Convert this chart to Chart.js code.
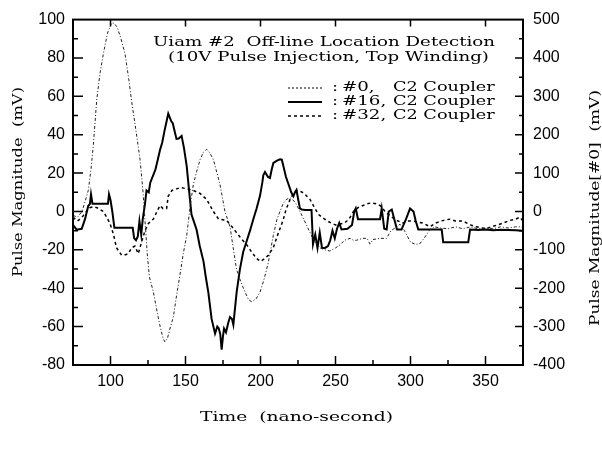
<!DOCTYPE html>
<html>
<head>
<meta charset="utf-8">
<script src="https://cdn.jsdelivr.net/npm/chart.js"></script>
<style>
  body { margin: 0; background: #fff; }
  canvas { display: block; }
</style>
</head>
<body>
<canvas id="pulseChart" width="602" height="464"></canvas>
<script>
// tick labels
var xTicks = [100, 150, 200, 250, 300, 350];
var yTicks = [-80, -60, -40, -20, 0, 20, 40, 60, 80, 100];
var y1Ticks = [-400, -300, -200, -100, 0, 100, 200, 300, 400, 500];

// #0, C2 Coupler (right axis, mV)
var t0 = [75, 78, 81, 83, 85.2, 87, 88.6, 90.8, 93, 95.2, 98, 100.8, 102.5, 104.5, 107, 109.7, 112, 114, 117, 119.7,
  121.5, 123, 124.5, 125.9, 128.6, 131, 133, 135, 136.3, 138, 140, 141.9, 144, 146.3, 148.5, 150.8, 153, 155.2, 157.5, 159.7,
  162, 164.1, 166.3, 168.6, 171, 173, 176.3, 179.7, 182, 184, 187, 189.7, 192, 194.1, 197, 199.7, 202.5, 205.2, 208.5, 211,
  213, 215, 217.4, 220, 223, 226.3, 230, 235, 239.7, 243, 246.3, 250, 253, 256, 259.7, 262, 264, 268, 271, 273,
  275, 280, 284, 287, 290.8, 293, 296, 300, 303, 306, 309, 313, 316, 320, 325, 330, 335, 340, 345, 350,
  355, 360, 365, 370, 375];
var v0 = [-10, -15, 0, 25, 55, 110, 175, 290, 360, 410, 465, 492, 490, 480, 450, 410, 350, 290, 210, 135,
  60, -25, -110, -170, -210, -260, -298, -330, -340, -330, -300, -275, -220, -165, -110, -63, 10, 70, 105, 135,
  155, 162, 152, 135, 100, 70, 0, -40, -100, -150, -185, -210, -230, -235, -228, -210, -175, -133, -63, -20,
  0, 20, 32, 35, 25, 0, -30, -71, -95, -100, -103, -95, -87, -75, -70, -75, -75, -70, -70, -85,
  -73, -70, -70, -50, -40, -33, -50, -80, -85, -85, -70, -47, -40, -43, -45, -40, -45, -40, -45, -43,
  -45, -40, -43, -40, -40];

// #16, C2 Coupler (left axis, mV)
var t16 = [75, 77.4, 80.8, 83, 85.2, 86.3, 87, 88, 92, 96, 98.3, 99, 100, 101.2, 102.6, 108, 114.8, 115.8, 117, 118.2,
  119.3, 120.5, 121.5, 123, 124, 125.5, 126.5, 128.5, 130, 131.5, 133, 134.5, 136, 137.4, 138.5, 139.5, 140.5, 141.5, 143, 144,
  145.5, 147.4, 149, 150.8, 152.5, 154, 155.5, 157.4, 159.5, 162, 163.5, 165.2, 167.4, 169.7, 171.2, 172.2, 173.2, 174.1, 175, 175.7,
  177, 178.5, 179.7, 181, 181.9, 184.1, 186.3, 188.5, 190.8, 193, 195.2, 197.4, 199.7, 201.2, 201.9, 203, 205, 206.3, 207.5, 208.6,
  211, 213, 214.2, 215.2, 217, 218.6, 220.5, 221.9, 223, 224, 225.2, 226.3, 227.5, 230, 234, 235, 236.5, 238, 239.5, 241,
  243, 245, 246.5, 248, 249.5, 251, 252.5, 254, 258, 261, 262.5, 263.5, 265, 270, 275, 279.7, 280.8, 282.5, 284.1, 285.5,
  287.5, 289.5, 291, 294, 297, 299.7, 302, 303.5, 305.2, 310, 315, 320.8, 321.8, 330, 338.5, 339.7, 345, 350, 355, 360,
  365, 370, 375];
var v16 = [-7, -9.5, -9, -4, 3, 4, 9, 4, 4, 4, 4, 9, 6, 0, -8.5, -8.5, -8.5, -14, -15, -13,
  -5, -12, -4, 4, 11, 10, 15, 19, 22, 27, 32, 36, 42, 47, 51, 49, 47, 46, 41, 37.8,
  38, 39.4, 33, 23.6, 10, -1.6, -5, -9.5, -18, -26, -34, -42, -56, -63.6, -60, -61, -64, -72, -65, -61,
  -63, -58, -55, -56, -59, -42, -30, -21, -15.4, -10, -4, 1.6, 8.3, 15, 19, 20.6, 18, 17.5, 22, 25.3,
  26.5, 27.2, 27, 23.8, 18, 14.3, 10, 8, 10, 11.2, 6, 1.6, 1, 0.8, 0.8, -17, -12, -19, -11, -19,
  -19, -18, -15, -10, -14, -9, -6, -9.4, -9, -7, 0, 1.6, -4, -4, -4, -4, 1.6, -9, -9.4, 0,
  1, -5, -9.4, -9.4, -4, 1.6, 0, -5, -9.4, -9.4, -9.4, -9.4, -16, -16, -16, -9.4, -9.6, -9.4, -9.8, -9.5,
  -9.6, -9.8, -10];

// #32, C2 Coupler (left axis, mV)
var t32 = [75, 78, 81, 84, 86, 88.6, 91, 95.2, 97.5, 99.7, 102, 104, 107.4, 110, 111.9, 114.1, 116.3, 118.5, 120.8, 123,
  125.2, 128.6, 131, 133, 135, 137.4, 138.5, 141, 144, 147, 150.8, 155.2, 159.7, 164.1, 168.6, 172, 177.4, 181, 184, 187,
  190.8, 194, 197.4, 200, 202, 205, 208.5, 212, 215, 217, 219.7, 222, 224, 226.6, 229, 233, 236, 238.6, 241, 244,
  247, 250, 253, 256, 259, 262, 265, 268, 271, 274, 277, 280, 283, 286, 290.8, 295, 298, 302, 308, 313,
  317, 320, 326, 330, 335, 340, 344, 350, 354, 358, 362, 366, 370, 373, 375];
var v32 = [-3, -5, -3, 0, 2, 2.5, 2, 0, -3, -6.3, -12, -18.9, -22.8, -22.5, -22, -18.9, -18, -22, -15.7, -10,
  -6.3, -3.9, 0, 3.1, 1.5, 1.6, 8, 11, 11.8, 12.5, 11.8, 11, 9.4, 6.3, 0, -3.9, -4.7, -8, -11, -14,
  -17.3, -21, -24.5, -26, -25, -23, -18.9, -11, -4.7, 1, 6.3, 9.5, 11, 10.5, 9.5, 6.3, 2, -1.5, -3, -4.7,
  -6, -7, -6.5, -6, -4, 0, 2, 3, 4, 4.5, 4, 3, 0, -2, -4.7, -6, -5, -5, -6, -7.9,
  -6, -5, -4, -5, -5, -7, -8, -9, -8, -7, -6, -4.7, -4, -3, -5];

function pts(t, v) {
  return t.map(function (x, i) { return { x: x, y: v[i] }; });
}

var serif = '"DejaVu Serif", "Liberation Serif", serif';

// draw text with a horizontal stretch and a slight vertical squash
function drawText(ctx, s, x, y, scale) {
  ctx.save();
  ctx.translate(x, y);
  ctx.scale(scale, 0.93);
  ctx.fillText(s, 0, 0);
  ctx.restore();
}

var decorPlugin = {
  id: 'decor',
  afterDraw: function (chart) {
    var ctx = chart.ctx;
    var a = chart.chartArea;
    var sx = chart.scales.x, sy = chart.scales.y, sy1 = chart.scales.y1;
    var v, p, len;
    ctx.save();
    ctx.strokeStyle = '#000';
    ctx.lineWidth = 2;
    ctx.strokeRect(a.left, a.top, a.right - a.left, a.bottom - a.top);
    ctx.lineWidth = 1.5;
    ctx.beginPath();
    for (v = 100; v < 375; v += 25) {
      p = sx.getPixelForValue(v);
      len = v % 50 === 0 ? 9 : 5;
      ctx.moveTo(p, a.bottom); ctx.lineTo(p, a.bottom - len);
      if (v % 50 === 0) { ctx.moveTo(p, a.top); ctx.lineTo(p, a.top + 7); }
    }
    for (v = -70; v < 100; v += 10) {
      p = sy.getPixelForValue(v);
      len = v % 20 === 0 ? 10 : 5;
      ctx.moveTo(a.left, p); ctx.lineTo(a.left + len, p);
    }
    for (v = -350; v < 500; v += 50) {
      p = sy1.getPixelForValue(v);
      len = v % 100 === 0 ? 8 : 4;
      ctx.moveTo(a.right, p); ctx.lineTo(a.right - len, p);
    }
    ctx.stroke();

    // title inside plot
    ctx.fillStyle = '#000';
    ctx.textBaseline = 'middle';
    ctx.textAlign = 'left';
    ctx.font = '14px ' + serif;
    var line1 = 'Uiam #2  Off-line Location Detection';
    var k = 342 / ctx.measureText(line1).width;
    drawText(ctx, line1, 153, 43, k);
    drawText(ctx, '(10V Pulse Injection, Top Winding)', 168, 58, k);

    // legend
    var rows = [
      { y: 88, key: '#0,', dash: [2, 2], w: 1 },
      { y: 102, key: '#16,', dash: [], w: 2 },
      { y: 116, key: '#32,', dash: [3, 3], w: 1.5 }
    ];
    rows.forEach(function (r) {
      ctx.beginPath();
      ctx.setLineDash(r.dash);
      ctx.lineWidth = r.w;
      ctx.moveTo(288, r.y); ctx.lineTo(322, r.y);
      ctx.stroke();
      ctx.setLineDash([]);
      drawText(ctx, ':', 332, r.y, k);
      drawText(ctx, r.key, 342, r.y, k);
      drawText(ctx, 'C2 Coupler', 393, r.y, k * 0.97);
    });

    // axis titles
    ctx.font = '14px ' + serif;
    var xt = 'Time  (nano-second)';
    drawText(ctx, xt, 200, 418, 193 / ctx.measureText(xt).width);
    var lt = 'Pulse Magnitude  (mV)';
    ctx.save();
    ctx.translate(19, 277);
    ctx.rotate(-Math.PI / 2);
    drawText(ctx, lt, 0, 0, 190 / ctx.measureText(lt).width);
    ctx.restore();
    var rt = 'Pulse Magnitude[#0]  (mV)';
    ctx.save();
    ctx.translate(596, 326);
    ctx.rotate(-Math.PI / 2);
    drawText(ctx, rt, 0, 0, 236 / ctx.measureText(rt).width);
    ctx.restore();
    ctx.restore();
  }
};

var tickFont = { family: '"Liberation Sans", Arial, sans-serif', size: 16 };

new Chart(document.getElementById('pulseChart').getContext('2d'), {
  type: 'scatter',
  data: {
    datasets: [
      {
        label: '#0, C2 Coupler',
        data: pts(t0, v0),
        yAxisID: 'y1',
        showLine: true,
        borderColor: '#222',
        borderWidth: 1,
        borderDash: [3, 2, 1, 2],
        pointRadius: 0
      },
      {
        label: '#16, C2 Coupler',
        data: pts(t16, v16),
        yAxisID: 'y',
        showLine: true,
        borderColor: '#000',
        borderWidth: 2,
        pointRadius: 0
      },
      {
        label: '#32, C2 Coupler',
        data: pts(t32, v32),
        yAxisID: 'y',
        showLine: true,
        borderColor: '#000',
        borderWidth: 1.5,
        borderDash: [3, 3],
        pointRadius: 0
      }
    ]
  },
  options: {
    responsive: false,
    animation: false,
    layout: { padding: { top: 11, left: 0, right: 0, bottom: 0 } },
    plugins: { legend: { display: false }, tooltip: { enabled: false } },
    scales: {
      x: {
        type: 'linear',
        min: 75,
        max: 375,
        afterBuildTicks: function (s) { s.ticks = xTicks.map(function (v) { return { value: v }; }); },
        afterFit: function (s) { s.height = 99; },
        grid: { display: false, drawTicks: false },
        border: { display: false },
        ticks: { color: '#000', font: tickFont, padding: 7, maxRotation: 0 }
      },
      y: {
        position: 'left',
        min: -80,
        max: 100,
        afterBuildTicks: function (s) { s.ticks = yTicks.map(function (v) { return { value: v }; }); },
        afterFit: function (s) { s.width = 73; },
        grid: { display: false, drawTicks: false },
        border: { display: false },
        ticks: { color: '#000', font: tickFont, padding: 8 }
      },
      y1: {
        position: 'right',
        min: -400,
        max: 500,
        afterBuildTicks: function (s) { s.ticks = y1Ticks.map(function (v) { return { value: v }; }); },
        afterFit: function (s) { s.width = 79; },
        grid: { display: false, drawTicks: false },
        border: { display: false },
        ticks: { color: '#000', font: tickFont, padding: 10 }
      }
    }
  },
  plugins: [decorPlugin]
});
</script>
</body>
</html>
